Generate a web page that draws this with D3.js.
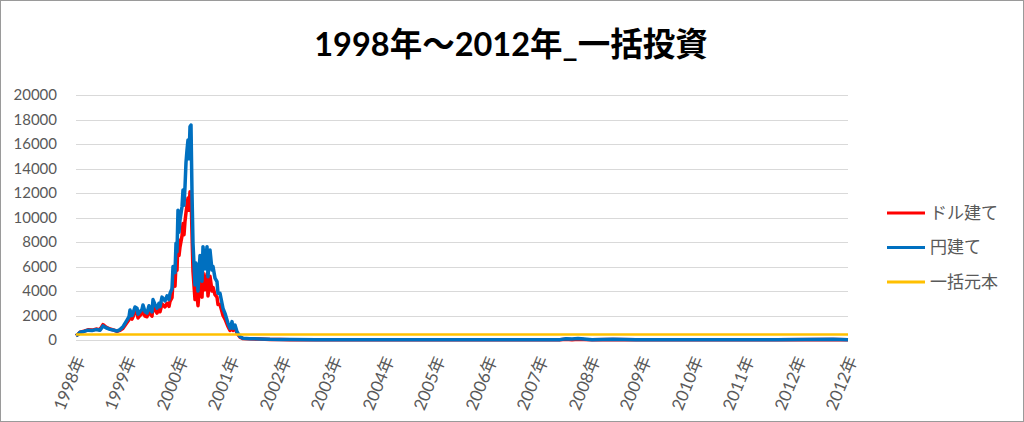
<!DOCTYPE html>
<html lang="ja">
<head>
<meta charset="UTF-8">
<title>1998年～2012年_一括投資</title>
<script src="https://d3js.org/d3.v7.min.js"></script>
<style>
    body { margin: 0; background: #fff; }
    svg { display: block; font-family: "Lato", "Noto Sans CJK JP", sans-serif; }
    .grid line { stroke: #d9d9d9; stroke-width: 1; }
    .axis text { fill: #595959; font-size: 15px; }
    .xlab text { fill: #595959; font-size: 17px; }
</style>
</head>
<body>
<svg id="chart"></svg>
<script>
// week index from the start of 1998
var weeks = [0, 2, 4, 8, 12, 16, 20, 24, 27, 30, 34, 38, 41, 44, 47, 51, 53, 54, 56, 57, 59, 61, 62, 64,
    66, 67, 69, 71, 73, 74, 76, 77, 79, 81, 83, 84, 86, 87, 89, 91, 93, 94, 96, 97, 99, 100, 101, 102, 103, 104, 106, 107, 108, 109, 110, 111, 112,
    113, 114, 115, 116, 117, 119, 120, 122, 124, 126, 127, 129, 131, 132, 134, 136, 137, 139, 141, 142, 144,
    146, 147, 149, 151, 152, 154, 156, 157, 159, 161, 162, 164, 167, 174, 184, 194, 204, 214, 240, 270,
    300, 330, 360, 400, 440, 484, 490, 496, 502, 508, 516, 537, 560, 600, 650, 700, 757, 772];

var yenVals = [350, 450, 630, 700, 800, 780, 850, 800, 1150, 1000, 870, 800, 730, 850, 1090, 1630, 1900, 2450, 2000, 2200, 2700, 2600, 2100, 2310,
    2500, 2860, 2300, 2200, 2800, 2500, 2300, 3300, 2900, 2600, 3000, 2720, 3500, 3400, 3200, 3600, 3300, 3800, 4200, 5990, 5500, 7890, 7200, 10600, 8800, 9800, 10880, 12240, 11000, 12510, 14500, 15500, 16330,
    14800, 17410, 17550, 12000, 7900, 4500, 6280, 4000, 6900, 4800, 7620, 5800, 7620, 5170, 7350, 5710, 6000, 5050, 4760, 3810, 3810,
    3000, 2590, 2180, 1630, 1360, 950, 1500, 950, 1220, 680, 540, 270, 140, 110, 90, 60, 50, 40, 30, 25,
    22, 20, 18, 18, 20, 30, 110, 80, 130, 90, 30, 60, 20, 15, 15, 18, 70, 30];

var usdVals = [350, 460, 640, 720, 830, 810, 890, 840, 1250, 1050, 900, 800, 700, 780, 960, 1420, 1650, 2100, 1700, 1900, 2300, 2250, 1800, 2000,
    2150, 2450, 1950, 1900, 2400, 2150, 1950, 2850, 2450, 2200, 2550, 2300, 2950, 2850, 2700, 3000, 2750, 3150, 3450, 4800, 4400, 6200, 5700, 8200, 6900, 7600, 8500, 9500, 8600, 9700, 10400, 11000, 11600,
    10600, 12100, 12000, 8700, 5600, 3300, 4600, 2800, 5000, 3500, 5500, 4100, 5400, 3600, 5200, 4000, 4300, 3700, 3500, 2900, 2900,
    2300, 2000, 1700, 1300, 1100, 780, 1200, 780, 1000, 560, 450, 230, 120, 95, 75, 50, 40, 30, 25, 20,
    18, 16, 15, 14, 15, 20, 60, 30, 70, 40, 20, 40, 15, 12, 12, 14, 50, 25];

var principal = 450;

var labelWeeks = [0, 51, 103, 154, 206, 257, 309, 360, 412, 463, 515, 566, 618, 669, 721, 772];
var labelNames = ["1998年", "1999年", "2000年", "2001年", "2002年", "2003年", "2004年", "2005年",
    "2006年", "2007年", "2008年", "2009年", "2010年", "2011年", "2012年", "2012年"];

var yTicks = [0, 2000, 4000, 6000, 8000, 10000, 12000, 14000, 16000, 18000, 20000];

var seriesNames = ["ドル建て", "円建て", "一括元本"];
var seriesColors = ["#ff0000", "#0070c0", "#ffc000"];

var w = 1024,
    h = 422;

var svg = d3.select("#chart")
    .attr("width", w)
    .attr("height", h);

svg.append("rect")
    .attr("x", 0.5).attr("y", 0.5)
    .attr("width", w - 1).attr("height", h - 1)
    .attr("fill", "#fff")
    .attr("stroke", "#9a9a9a");

var x = d3.scaleLinear().domain([0, 772]).range([76, 848]);
var y = d3.scaleLinear().domain([0, 20000]).range([340, 95]);

// title
svg.append("text")
    .attr("x", 511)
    .attr("y", 56)
    .attr("text-anchor", "middle")
    .attr("font-size", 32.5)
    .attr("font-weight", "bold")
    .attr("fill", "#000")
    .text("1998年～2012年_一括投資");

// gridlines
svg.append("g")
    .attr("class", "grid")
    .selectAll("line")
    .data(yTicks)
    .enter().append("line")
    .attr("x1", x(0))
    .attr("x2", x(772))
    .attr("y1", (d) => Math.round(y(d)) + 0.5)
    .attr("y2", (d) => Math.round(y(d)) + 0.5);

// y axis labels
var yAxis = svg.append("g")
    .attr("class", "axis")
    .attr("transform", "translate(57,0)")
    .call(d3.axisLeft(y).tickValues(yTicks).tickFormat(d3.format("d")).tickSize(0).tickPadding(0));
yAxis.select(".domain").remove();
yAxis.attr("font-family", null).attr("font-size", null);

// x axis labels (rotated)
svg.append("g")
    .attr("class", "xlab")
    .selectAll("text")
    .data(labelWeeks)
    .enter().append("text")
    .attr("transform", (d) => "translate(" + (x(d) + 4) + ",357) rotate(-68)")
    .attr("text-anchor", "end")
    .attr("dy", "0.35em")
    .text((d, i) => labelNames[i]);

var line = d3.line()
    .x((d) => x(d[0]))
    .y((d) => y(d[1]));

var usdData = weeks.map((wk, i) => [wk, usdVals[i]]);
var yenData = weeks.map((wk, i) => [wk, yenVals[i]]);
var principalData = [[weeks[0], principal], [weeks[weeks.length - 1], principal]];

[usdData, yenData, principalData].forEach(function (data, i) {
    svg.append("path")
        .datum(data)
        .attr("fill", "none")
        .attr("stroke", seriesColors[i])
        .attr("stroke-width", i == 2 ? 2.5 : 3.5)
        .attr("stroke-linejoin", "round")
        .attr("d", line);
});

// legend
var legend = svg.append("g")
    .selectAll("g")
    .data(seriesNames)
    .enter().append("g")
    .attr("transform", (d, i) => "translate(887," + (213 + i * 34.5) + ")");

legend.append("line")
    .attr("x1", 0).attr("x2", 38)
    .attr("stroke", (d, i) => seriesColors[i])
    .attr("stroke-width", 3);

legend.append("text")
    .attr("x", 43)
    .attr("dy", "0.35em")
    .attr("font-size", 17)
    .attr("fill", "#595959")
    .text((d) => d);
</script>
</body>
</html>
